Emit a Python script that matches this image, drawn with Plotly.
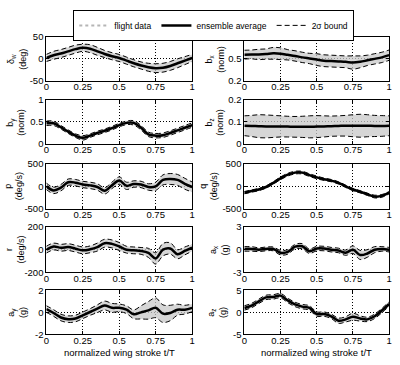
import plotly.graph_objects as go

# ---------------- data ----------------
t = [0, 0.05, 0.1, 0.15, 0.2, 0.25, 0.3, 0.35, 0.4, 0.45, 0.5,
     0.55, 0.6, 0.65, 0.7, 0.75, 0.8, 0.85, 0.9, 0.95, 1]
x_ticks = [0, 0.25, 0.5, 0.75, 1]
x_ticklabels = ["0", "0.25", "0.5", "0.75", "1"]

dw_mean = [2, 8, 12, 17, 22, 25, 23, 17, 11, 6, 2, -4, -10, -15, -19, -21, -20, -16, -10, -4, 2]
dw_2sig = [8, 9, 9, 9, 9, 8, 9, 9, 8, 8, 8, 8, 8, 8, 9, 10, 10, 10, 10, 9, 8]

bx_mean = [0.557, 0.56, 0.56, 0.565, 0.575, 0.57, 0.555, 0.54, 0.52, 0.505, 0.49, 0.475, 0.47, 0.465, 0.46, 0.45, 0.46, 0.48, 0.5, 0.52, 0.55]
bx_2sig = [0.06, 0.06, 0.07, 0.07, 0.08, 0.08, 0.07, 0.07, 0.07, 0.07, 0.08, 0.08, 0.08, 0.08, 0.08, 0.09, 0.08, 0.07, 0.07, 0.07, 0.07]

by_mean = [0.47, 0.47, 0.38, 0.28, 0.19, 0.14, 0.19, 0.25, 0.3, 0.36, 0.43, 0.48, 0.48, 0.37, 0.22, 0.19, 0.2, 0.25, 0.31, 0.37, 0.43]
by_2sig = [0.05, 0.05, 0.04, 0.04, 0.04, 0.05, 0.04, 0.04, 0.04, 0.04, 0.04, 0.04, 0.05, 0.05, 0.05, 0.05, 0.05, 0.05, 0.05, 0.05, 0.05]

bz_mean = [0.083, 0.082, 0.081, 0.080, 0.080, 0.080, 0.079, 0.078, 0.078, 0.078, 0.079, 0.080, 0.081, 0.082, 0.083, 0.083, 0.083, 0.083, 0.082, 0.082, 0.083]
bz_2sig = [0.045, 0.048, 0.052, 0.052, 0.050, 0.048, 0.047, 0.047, 0.048, 0.050, 0.050, 0.048, 0.046, 0.046, 0.047, 0.050, 0.052, 0.050, 0.048, 0.047, 0.045]

p_mean = [0, -90, -30, 90, 80, 40, 20, -15, -100, 20, 125, 10, 50, 40, -15, 0, 140, 160, 140, 55, -15]
p_2sig = [70, 70, 70, 70, 70, 70, 70, 70, 70, 70, 80, 80, 70, 70, 70, 90, 110, 120, 120, 120, 110]

q_mean = [-140, -105, -70, -15, 75, 175, 255, 300, 300, 245, 195, 155, 125, 75, 0, -70, -120, -175, -225, -210, -140]
q_2sig = [25, 25, 25, 25, 25, 30, 30, 30, 30, 30, 30, 25, 25, 25, 25, 25, 25, 25, 30, 30, 25]

r_mean = [0, 28, 17, 23, 9, -6, 3, 23, 57, 51, 28, 0, -6, -11, -28, -77, 0, 11, -40, -11, 17]
r_2sig = [30, 30, 30, 30, 30, 30, 30, 35, 35, 35, 35, 30, 30, 30, 40, 50, 55, 50, 40, 35, 30]

ax_mean = [0.1, 0.1, 0.0, 0.1, 0.1, -0.4, -0.3, 0.4, 0.45, -0.2, 0.15, 0.15, 0.0, -0.1, -0.4, 0.0, -0.7, -0.5, 0.0, 0.1, 0.0]
ax_2sig = [0.3, 0.3, 0.25, 0.25, 0.25, 0.3, 0.3, 0.3, 0.35, 0.3, 0.3, 0.3, 0.3, 0.3, 0.35, 0.5, 0.6, 0.5, 0.4, 0.3, 0.3]

ay_mean = [0.3, -0.06, -0.47, -0.62, -0.56, -0.27, 0.03, 0.33, 0.62, 0.41, 0.41, 0.24, -0.18, 0.0, 0.18, 0.41, -0.12, -0.06, 0.24, 0.24, 0.41]
ay_2sig = [0.3, 0.3, 0.3, 0.3, 0.3, 0.3, 0.3, 0.35, 0.4, 0.4, 0.35, 0.35, 0.4, 0.6, 0.8, 0.9, 0.8, 0.7, 0.5, 0.4, 0.35]

az_mean = [1.0, 1.55, 2.5, 3.4, 3.5, 3.8, 2.7, 1.8, 1.3, 1.0, -0.4, -0.4, -0.9, -1.9, -1.6, -1.0, -1.4, -1.6, -0.9, 0.4, 1.9]
az_2sig = [0.5, 0.5, 0.5, 0.5, 0.5, 0.5, 0.5, 0.5, 0.5, 0.5, 0.5, 0.5, 0.5, 0.6, 0.6, 0.8, 0.6, 0.5, 0.5, 0.5, 0.5]

# (symbol, unit, mean, 2sigma, y range, y ticks, y tick labels)
panels = [
    ("δ<sub>w</sub>", "(deg)", dw_mean, dw_2sig, [-50, 50], [-50, 0, 50], ["-50", "0", "50"]),
    ("b<sub>x</sub>", "(norm)", bx_mean, bx_2sig, [0.2, 0.8], [0.2, 0.5, 0.8], ["0.2", "0.5", "0.8"]),
    ("b<sub>y</sub>", "(norm)", by_mean, by_2sig, [0, 1], [0, 0.5, 1], ["0", "0.5", "1"]),
    ("b<sub>z</sub>", "(norm)", bz_mean, bz_2sig, [0, 0.2], [0, 0.1, 0.2], ["0", "0.1", "0.2"]),
    ("p", "(deg/s)", p_mean, p_2sig, [-500, 500], [-500, 0, 500], ["-500", "0", "500"]),
    ("q", "(deg/s)", q_mean, q_2sig, [-500, 500], [-500, 0, 500], ["-500", "0", "500"]),
    ("r", "(deg/s)", r_mean, r_2sig, [-200, 200], [-200, 0, 200], ["-200", "0", "200"]),
    ("a<sub>x</sub>", "(g)", ax_mean, ax_2sig, [-3, 3], [-3, 0, 3], ["-3", "0", "3"]),
    ("a<sub>y</sub>", "(g)", ay_mean, ay_2sig, [-2, 2], [-2, 0, 2], ["-2", "0", "2"]),
    ("a<sub>z</sub>", "(g)", az_mean, az_2sig, [-5, 5], [-5, 0, 5], ["-5", "0", "5"]),
]

# ---------------- layout geometry ----------------
W, H = 400, 365
col_dom = [(44 / W, 192 / W), (245 / W, 392 / W)]
row_px = [(31.7, 77.3), (96.9, 142.3), (162.4, 209.4), (227.9, 274.6), (293.2, 338.5)]
label_px = [14, 215, 13, 215, 11, 209, 12, 219, 15, 218]

FONT = "Liberation Sans, Arial, sans-serif"
GRAY_FILL = "rgba(200,200,200,0.75)"
DASH = "5px,3px"

fig = go.Figure()

# legend entries
fig.add_trace(go.Scatter(x=[None], y=[None], mode="lines", name="flight data",
                         line=dict(color="#b5b5b5", width=2, dash="dot")))
fig.add_trace(go.Scatter(x=[None], y=[None], mode="lines", name="ensemble average",
                         line=dict(color="black", width=2.5)))
fig.add_trace(go.Scatter(x=[None], y=[None], mode="lines", name="2σ bound",
                         line=dict(color="black", width=1, dash=DASH)))

annotations = []
for i, (sym, unit, mean, s2, yr, yt, ytl) in enumerate(panels):
    k = i + 1
    xa = "x" if k == 1 else f"x{k}"
    ya = "y" if k == 1 else f"y{k}"
    row, col = divmod(i, 2)
    lower = [m - s for m, s in zip(mean, s2)]
    upper = [m + s for m, s in zip(mean, s2)]
    fig.add_trace(go.Scatter(x=t, y=lower, xaxis=xa, yaxis=ya, mode="lines", showlegend=False,
                             line=dict(color="black", width=1, dash=DASH, shape="spline")))
    fig.add_trace(go.Scatter(x=t, y=upper, xaxis=xa, yaxis=ya, mode="lines", showlegend=False,
                             fill="tonexty", fillcolor=GRAY_FILL,
                             line=dict(color="black", width=1, dash=DASH, shape="spline")))
    fig.add_trace(go.Scatter(x=t, y=mean, xaxis=xa, yaxis=ya, mode="lines", showlegend=False,
                             line=dict(color="black", width=2.5, shape="spline")))

    top, bot = row_px[row]
    ydom = (1 - bot / H, 1 - top / H)
    axis_common = dict(showline=True, linecolor="black", linewidth=1, mirror="ticks",
                       ticks="inside", ticklen=3, tickcolor="black",
                       showgrid=True, gridcolor="black", griddash="1px,2px", gridwidth=1,
                       zeroline=False, tickfont=dict(family=FONT, size=9.5, color="black"))
    fig.layout[f"xaxis{k if k > 1 else ''}"] = dict(
        domain=list(col_dom[col]), anchor=ya, range=[0, 1], ticklabelstandoff=-3,
        tickmode="array", tickvals=x_ticks, ticktext=x_ticklabels, **axis_common)
    fig.layout[f"yaxis{k if k > 1 else ''}"] = dict(
        domain=list(ydom), anchor=xa, range=yr,
        tickmode="array", tickvals=yt, ticktext=ytl, **axis_common)

    annotations.append(dict(text=f"{sym}<br>{unit}", x=label_px[i] / W, y=(ydom[0] + ydom[1]) / 2,
                            xref="paper", yref="paper", xanchor="center", yanchor="middle",
                            textangle=-90, showarrow=False,
                            font=dict(family=FONT, size=9, color="black")))

for cx in (118, 318.5):
    annotations.append(dict(text="normalized wing stroke t/T", x=cx / W, y=1 - 357 / H,
                            xref="paper", yref="paper", xanchor="center", yanchor="middle",
                            showarrow=False, font=dict(family=FONT, size=9.5, color="black")))

fig.update_layout(
    width=W, height=H, margin=dict(l=0, r=0, t=0, b=0),
    paper_bgcolor="white", plot_bgcolor="white",
    font=dict(family=FONT, size=10, color="black"),
    annotations=annotations,
    legend=dict(orientation="h", x=214 / W, y=1 - 4 / H, xanchor="center", yanchor="top",
                bordercolor="black", borderwidth=1, bgcolor="white",
                font=dict(family=FONT, size=8.5, color="black"),
                itemwidth=30, traceorder="normal", tracegroupgap=0),
)

fig.write_html("out.html", config={"displayModeBar": False},
               post_script="document.body.style.margin='0';document.body.style.overflow='hidden';")
